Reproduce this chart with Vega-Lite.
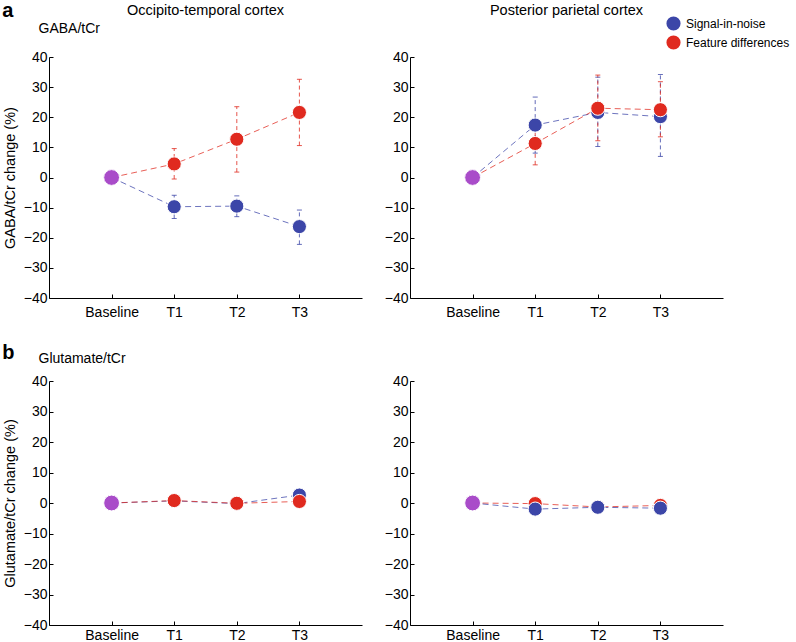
{
  "$schema": "https://vega.github.io/schema/vega-lite/v6.json",
  "padding": {"left": 2, "top": 1, "right": 5, "bottom": 1},
  "background": "white",
  "config": {
    "font": "Liberation Sans",
    "view": {"stroke": null},
    "axis": {"domainColor": "black", "tickColor": "black", "labelColor": "black", "titleColor": "black", "labelFontSize": 14, "titleFontSize": 14.5, "titleFontWeight": "normal", "grid": false, "tickSize": -4, "domainWidth": 1, "tickWidth": 1},
    "axisY": {"labelPadding": 6, "titlePadding": 6},
    "axisX": {"labelPadding": 11, "labelAngle": 0},
    "title": {"fontSize": 14.5, "fontWeight": "normal", "color": "black"},
    "legend": {"labelFontSize": 12, "labelColor": "black", "symbolSize": 200, "symbolType": "circle", "symbolStrokeWidth": 0, "symbolOpacity": 1, "rowPadding": 4, "labelOffset": 5}
  },
  "spacing": 24,
  "vconcat": [
    {
      "title": {"text": "a", "anchor": "start", "frame": "bounds", "fontSize": 20, "fontWeight": "bold", "offset": -18.5},
      "spacing": 22,
      "hconcat": [
        {
          "width": 313, "height": 241,
          "title": {"text": "Occipito-temporal cortex", "anchor": "middle", "frame": "group", "offset": 3},
          "data": {"values": [
            {"series": "Signal-in-noise", "time": "Baseline", "value": 0, "lo": null, "hi": null},
            {"series": "Signal-in-noise", "time": "T1", "value": -9.7, "lo": -13.6, "hi": -5.9},
            {"series": "Signal-in-noise", "time": "T2", "value": -9.5, "lo": -13.0, "hi": -6.1},
            {"series": "Signal-in-noise", "time": "T3", "value": -16.3, "lo": -22.2, "hi": -10.8},
            {"series": "Feature differences", "time": "Baseline", "value": 0, "lo": null, "hi": null},
            {"series": "Feature differences", "time": "T1", "value": 4.5, "lo": -0.5, "hi": 9.6},
            {"series": "Feature differences", "time": "T2", "value": 12.7, "lo": 1.8, "hi": 23.5},
            {"series": "Feature differences", "time": "T3", "value": 21.6, "lo": 10.6, "hi": 32.6}
          ]},
          "resolve": {"axis": {"x": "independent"}},
          "layer": [
            {
              "transform": [{"filter": "isValid(datum.lo)"}],
              "mark": {"type": "rule", "strokeDash": [4, 3], "strokeWidth": 1, "opacity": 0.8},
              "encoding": {
                "x": {"field": "time", "type": "ordinal", "scale": {"type": "point", "padding": 1, "domain": ["Baseline", "T1", "T2", "T3"]}, "axis": null},
                "y": {"field": "lo", "type": "quantitative", "scale": {"domain": [-40, 40], "nice": false}, "axis": {"title": "GABA/tCr change (%)", "values": [-40, -30, -20, -10, 0, 10, 20, 30, 40]}},
                "y2": {"field": "hi"},
                "color": {"field": "series", "type": "nominal", "scale": {"domain": ["Signal-in-noise", "Feature differences"], "range": ["#3c46a8", "#e02a1f"]}, "legend": {"title": null, "orient": "none", "legendX": 617, "legendY": -41}}
              }
            },
            {
              "transform": [{"filter": "isValid(datum.lo)"}, {"fold": ["lo", "hi"], "as": ["end", "ev"]}],
              "mark": {"type": "tick", "size": 5, "thickness": 1, "opacity": 0.8},
              "encoding": {
                "x": {"field": "time", "type": "ordinal", "scale": {"type": "point", "padding": 1, "domain": ["Baseline", "T1", "T2", "T3"]}, "axis": null},
                "y": {"field": "ev", "type": "quantitative", "scale": {"domain": [-40, 40], "nice": false}, "axis": {"title": "GABA/tCr change (%)", "values": [-40, -30, -20, -10, 0, 10, 20, 30, 40]}},
                "color": {"field": "series", "type": "nominal", "scale": {"domain": ["Signal-in-noise", "Feature differences"], "range": ["#3c46a8", "#e02a1f"]}, "legend": {"title": null, "orient": "none", "legendX": 617, "legendY": -41}}
              }
            },
            {
              "mark": {"type": "line", "strokeDash": [6, 4], "strokeWidth": 1, "opacity": 0.75},
              "encoding": {
                "x": {"field": "time", "type": "ordinal", "scale": {"type": "point", "padding": 1, "domain": ["Baseline", "T1", "T2", "T3"]}, "axis": {"orient": "top", "title": "GABA/tCr", "domain": false, "ticks": false, "labels": false, "titleAnchor": "start", "titleAlign": "left", "titleBaseline": "alphabetic", "titleX": -11, "titleY": -25, "titleFontSize": 14}},
                "y": {"field": "value", "type": "quantitative", "scale": {"domain": [-40, 40], "nice": false}, "axis": {"title": "GABA/tCr change (%)", "values": [-40, -30, -20, -10, 0, 10, 20, 30, 40]}},
                "color": {"field": "series", "type": "nominal", "scale": {"domain": ["Signal-in-noise", "Feature differences"], "range": ["#3c46a8", "#e02a1f"]}, "legend": {"title": null, "orient": "none", "legendX": 617, "legendY": -41}}
              }
            },
            {
              "mark": {"type": "point", "filled": true, "opacity": 1, "stroke": "white", "strokeWidth": 1},
              "encoding": {
                "x": {"field": "time", "type": "ordinal", "scale": {"type": "point", "padding": 1, "domain": ["Baseline", "T1", "T2", "T3"]}, "axis": {"title": null}},
                "y": {"field": "value", "type": "quantitative", "scale": {"domain": [-40, 40], "nice": false}, "axis": {"title": "GABA/tCr change (%)", "values": [-40, -30, -20, -10, 0, 10, 20, 30, 40]}},
                "color": {"field": "series", "type": "nominal", "scale": {"domain": ["Signal-in-noise", "Feature differences"], "range": ["#3c46a8", "#e02a1f"]}, "legend": {"title": null, "orient": "none", "legendX": 617, "legendY": -41}, "condition": {"test": "datum.time === 'Baseline'", "value": "#a94cc9"}},
                "size": {"condition": {"test": "datum.time === 'Baseline'", "value": 250}, "value": 200}
              }
            }
          ]
        },
        {
          "width": 313, "height": 241,
          "title": {"text": "Posterior parietal cortex", "anchor": "middle", "frame": "group", "offset": 32},
          "data": {"values": [
            {"series": "Signal-in-noise", "time": "Baseline", "value": 0, "lo": null, "hi": null},
            {"series": "Signal-in-noise", "time": "T1", "value": 17.4, "lo": 8.1, "hi": 26.7},
            {"series": "Signal-in-noise", "time": "T2", "value": 21.6, "lo": 10.3, "hi": 33.3},
            {"series": "Signal-in-noise", "time": "T3", "value": 20.2, "lo": 7.0, "hi": 34.2},
            {"series": "Feature differences", "time": "Baseline", "value": 0, "lo": null, "hi": null},
            {"series": "Feature differences", "time": "T1", "value": 11.3, "lo": 4.2, "hi": 18.3},
            {"series": "Feature differences", "time": "T2", "value": 23.0, "lo": 12.2, "hi": 34.0},
            {"series": "Feature differences", "time": "T3", "value": 22.5, "lo": 13.5, "hi": 31.8}
          ]},
          "resolve": {"axis": {"x": "independent"}},
          "layer": [
            {
              "transform": [{"filter": "isValid(datum.lo)"}],
              "mark": {"type": "rule", "strokeDash": [4, 3], "strokeWidth": 1, "opacity": 0.8},
              "encoding": {
                "x": {"field": "time", "type": "ordinal", "scale": {"type": "point", "padding": 1, "domain": ["Baseline", "T1", "T2", "T3"]}, "axis": null},
                "y": {"field": "lo", "type": "quantitative", "scale": {"domain": [-40, 40], "nice": false}, "axis": {"title": null, "values": [-40, -30, -20, -10, 0, 10, 20, 30, 40]}},
                "y2": {"field": "hi"},
                "color": {"field": "series", "type": "nominal", "scale": {"domain": ["Signal-in-noise", "Feature differences"], "range": ["#3c46a8", "#e02a1f"]}, "legend": {"title": null, "orient": "none", "legendX": 617, "legendY": -41}}
              }
            },
            {
              "transform": [{"filter": "isValid(datum.lo)"}, {"fold": ["lo", "hi"], "as": ["end", "ev"]}],
              "mark": {"type": "tick", "size": 5, "thickness": 1, "opacity": 0.8},
              "encoding": {
                "x": {"field": "time", "type": "ordinal", "scale": {"type": "point", "padding": 1, "domain": ["Baseline", "T1", "T2", "T3"]}, "axis": null},
                "y": {"field": "ev", "type": "quantitative", "scale": {"domain": [-40, 40], "nice": false}, "axis": {"title": null, "values": [-40, -30, -20, -10, 0, 10, 20, 30, 40]}},
                "color": {"field": "series", "type": "nominal", "scale": {"domain": ["Signal-in-noise", "Feature differences"], "range": ["#3c46a8", "#e02a1f"]}, "legend": {"title": null, "orient": "none", "legendX": 617, "legendY": -41}}
              }
            },
            {
              "mark": {"type": "line", "strokeDash": [6, 4], "strokeWidth": 1, "opacity": 0.75},
              "encoding": {
                "x": {"field": "time", "type": "ordinal", "scale": {"type": "point", "padding": 1, "domain": ["Baseline", "T1", "T2", "T3"]}, "axis": null},
                "y": {"field": "value", "type": "quantitative", "scale": {"domain": [-40, 40], "nice": false}, "axis": {"title": null, "values": [-40, -30, -20, -10, 0, 10, 20, 30, 40]}},
                "color": {"field": "series", "type": "nominal", "scale": {"domain": ["Signal-in-noise", "Feature differences"], "range": ["#3c46a8", "#e02a1f"]}, "legend": {"title": null, "orient": "none", "legendX": 617, "legendY": -41}}
              }
            },
            {
              "mark": {"type": "point", "filled": true, "opacity": 1, "stroke": "white", "strokeWidth": 1},
              "encoding": {
                "x": {"field": "time", "type": "ordinal", "scale": {"type": "point", "padding": 1, "domain": ["Baseline", "T1", "T2", "T3"]}, "axis": {"title": null}},
                "y": {"field": "value", "type": "quantitative", "scale": {"domain": [-40, 40], "nice": false}, "axis": {"title": null, "values": [-40, -30, -20, -10, 0, 10, 20, 30, 40]}},
                "color": {"field": "series", "type": "nominal", "scale": {"domain": ["Signal-in-noise", "Feature differences"], "range": ["#3c46a8", "#e02a1f"]}, "legend": {"title": null, "orient": "none", "legendX": 617, "legendY": -41}, "condition": {"test": "datum.time === 'Baseline'", "value": "#a94cc9"}},
                "size": {"condition": {"test": "datum.time === 'Baseline'", "value": 250}, "value": 200}
              }
            }
          ]
        }
      ]
    },
    {
      "title": {"text": "b", "anchor": "start", "frame": "bounds", "fontSize": 20, "fontWeight": "bold", "offset": -12},
      "spacing": 22,
      "hconcat": [
        {
          "width": 313, "height": 244,
          "data": {"values": [
            {"series": "Signal-in-noise", "time": "Baseline", "value": 0},
            {"series": "Signal-in-noise", "time": "T1", "value": 0.7},
            {"series": "Signal-in-noise", "time": "T2", "value": -0.2},
            {"series": "Signal-in-noise", "time": "T3", "value": 2.6},
            {"series": "Feature differences", "time": "Baseline", "value": 0},
            {"series": "Feature differences", "time": "T1", "value": 0.8},
            {"series": "Feature differences", "time": "T2", "value": -0.1},
            {"series": "Feature differences", "time": "T3", "value": 0.5}
          ]},
          "resolve": {"axis": {"x": "independent"}},
          "layer": [
            {
              "mark": {"type": "line", "strokeDash": [6, 4], "strokeWidth": 1, "opacity": 0.75},
              "encoding": {
                "x": {"field": "time", "type": "ordinal", "scale": {"type": "point", "padding": 1, "domain": ["Baseline", "T1", "T2", "T3"]}, "axis": {"orient": "top", "title": "Glutamate/tCr", "domain": false, "ticks": false, "labels": false, "titleAnchor": "start", "titleAlign": "left", "titleBaseline": "alphabetic", "titleX": -11, "titleY": -19, "titleFontSize": 14}},
                "y": {"field": "value", "type": "quantitative", "scale": {"domain": [-40, 40], "nice": false}, "axis": {"title": "Glutamate/tCr change (%)", "values": [-40, -30, -20, -10, 0, 10, 20, 30, 40]}},
                "color": {"field": "series", "type": "nominal", "scale": {"domain": ["Signal-in-noise", "Feature differences"], "range": ["#3c46a8", "#e02a1f"]}, "legend": {"title": null, "orient": "none", "legendX": 617, "legendY": -41}}
              }
            },
            {
              "mark": {"type": "point", "filled": true, "opacity": 1, "stroke": "white", "strokeWidth": 1},
              "encoding": {
                "x": {"field": "time", "type": "ordinal", "scale": {"type": "point", "padding": 1, "domain": ["Baseline", "T1", "T2", "T3"]}, "axis": {"title": null, "labelPadding": 7}},
                "y": {"field": "value", "type": "quantitative", "scale": {"domain": [-40, 40], "nice": false}, "axis": {"title": "Glutamate/tCr change (%)", "values": [-40, -30, -20, -10, 0, 10, 20, 30, 40]}},
                "color": {"field": "series", "type": "nominal", "scale": {"domain": ["Signal-in-noise", "Feature differences"], "range": ["#3c46a8", "#e02a1f"]}, "legend": {"title": null, "orient": "none", "legendX": 617, "legendY": -41}, "condition": {"test": "datum.time === 'Baseline'", "value": "#a94cc9"}},
                "size": {"condition": {"test": "datum.time === 'Baseline'", "value": 250}, "value": 200}
              }
            }
          ]
        },
        {
          "width": 313, "height": 244,
          "data": {"values": [
            {"series": "Feature differences", "time": "Baseline", "value": 0},
            {"series": "Feature differences", "time": "T1", "value": -0.2},
            {"series": "Feature differences", "time": "T2", "value": -1.3},
            {"series": "Feature differences", "time": "T3", "value": -0.8},
            {"series": "Signal-in-noise", "time": "Baseline", "value": 0},
            {"series": "Signal-in-noise", "time": "T1", "value": -2.0},
            {"series": "Signal-in-noise", "time": "T2", "value": -1.4},
            {"series": "Signal-in-noise", "time": "T3", "value": -1.7}
          ]},
          "layer": [
            {
              "mark": {"type": "line", "strokeDash": [6, 4], "strokeWidth": 1, "opacity": 0.75},
              "encoding": {
                "x": {"field": "time", "type": "ordinal", "scale": {"type": "point", "padding": 1, "domain": ["Baseline", "T1", "T2", "T3"]}, "axis": {"title": null, "labelPadding": 7}},
                "y": {"field": "value", "type": "quantitative", "scale": {"domain": [-40, 40], "nice": false}, "axis": {"title": null, "values": [-40, -30, -20, -10, 0, 10, 20, 30, 40]}},
                "color": {"field": "series", "type": "nominal", "scale": {"domain": ["Signal-in-noise", "Feature differences"], "range": ["#3c46a8", "#e02a1f"]}, "legend": {"title": null, "orient": "none", "legendX": 617, "legendY": -41}}
              }
            },
            {
              "mark": {"type": "point", "filled": true, "opacity": 1, "stroke": "white", "strokeWidth": 1},
              "encoding": {
                "x": {"field": "time", "type": "ordinal", "scale": {"type": "point", "padding": 1, "domain": ["Baseline", "T1", "T2", "T3"]}, "axis": {"title": null, "labelPadding": 7}},
                "y": {"field": "value", "type": "quantitative", "scale": {"domain": [-40, 40], "nice": false}, "axis": {"title": null, "values": [-40, -30, -20, -10, 0, 10, 20, 30, 40]}},
                "color": {"field": "series", "type": "nominal", "scale": {"domain": ["Signal-in-noise", "Feature differences"], "range": ["#3c46a8", "#e02a1f"]}, "legend": {"title": null, "orient": "none", "legendX": 617, "legendY": -41}, "condition": {"test": "datum.time === 'Baseline'", "value": "#a94cc9"}},
                "size": {"condition": {"test": "datum.time === 'Baseline'", "value": 250}, "value": 200}
              }
            }
          ]
        }
      ]
    }
  ]
}
